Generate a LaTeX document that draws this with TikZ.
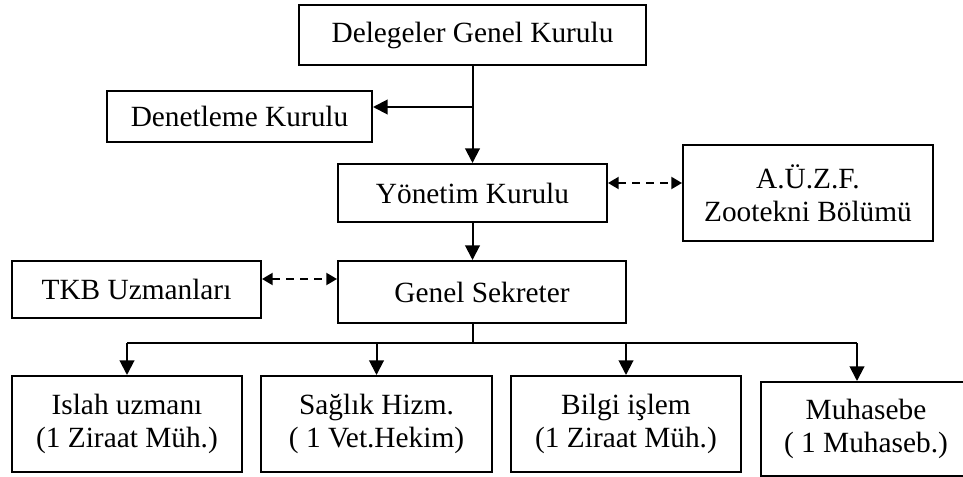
\documentclass[tikz,border=0pt]{standalone}
\usepackage{fontspec}
\setmainfont{Liberation Serif}
\usetikzlibrary{arrows.meta,calc}
\tikzset{
  box/.style={draw, line width=1.5pt, rectangle, inner sep=0pt, align=center,
    font=\fontsize{22}{25}\selectfont},
  conn/.style={line width=1.5pt, -{Triangle[length=11pt,width=11pt]}},
  dconn/.style={line width=1.5pt, dash pattern=on 5.5pt off 5pt,
    {Triangle[length=8pt,width=9pt]}-{Triangle[length=8pt,width=9pt]}},
  line/.style={line width=1.5pt}
}
\begin{document}
\begin{tikzpicture}[x=0.75pt,y=-0.75pt]
\useasboundingbox (0,0) rectangle (963,477);
\clip (0,0) rectangle (963,477);
\node[box, minimum width={347*0.75pt}, minimum height={60*0.75pt}] (dgk) at (472.5,35) {Delegeler Genel Kurulu};
\node[box, minimum width={265*0.75pt}, minimum height={51*0.75pt}] (den) at (239.5,116.5) {Denetleme Kurulu};
\node[box, minimum width={269*0.75pt}, minimum height={58*0.75pt}] (yon) at (472.5,193) {Yönetim Kurulu};
\node[box, minimum width={250*0.75pt}, minimum height={96*0.75pt}] (auzf) at (808,193) {A.Ü.Z.F.\\Zootekni Bölümü};
\node[box, minimum width={288*0.75pt}, minimum height={62*0.75pt}] (gs) at (482,292) {Genel Sekreter};
\node[box, minimum width={249*0.75pt}, minimum height={57*0.75pt}] (tkb) at (136.5,289.5) {TKB Uzmanları};
\node[box, minimum width={230*0.75pt}, minimum height={96*0.75pt}] (isl) at (127,424) {Islah uzmanı\\(1 Ziraat Müh.)};
\node[box, minimum width={231*0.75pt}, minimum height={96*0.75pt}] (sag) at (376.5,424) {Sağlık Hizm.\\( 1 Vet.Hekim)};
\node[box, minimum width={230*0.75pt}, minimum height={96*0.75pt}] (bil) at (626,424) {Bilgi işlem\\(1 Ziraat Müh.)};
\node[box, minimum width={210*0.75pt}, minimum height={94*0.75pt}] (muh) at (866,429) {Muhasebe\\( 1 Muhaseb.)};

\coordinate (br) at (472.5,107);
\coordinate (bus) at (472.5,343);
\coordinate (busL) at (127,343);
\coordinate (busR) at (857,343);
\coordinate (d1) at (607,183);
\coordinate (d2) at (683,183);
\coordinate (d3) at (261,279);
\coordinate (d4) at (338,279);

\draw[conn] (dgk.south) -- (yon.north);
\draw[conn] (br) -- (br -| den.east);
\draw[conn] (yon.south) -- (yon.south |- gs.north);
\draw[dconn] (d1 -| yon.east) -- (d2 -| auzf.west);
\draw[dconn] (d3 -| tkb.east) -- (d4 -| gs.west);
\draw[line] (bus |- gs.south) -- (bus);
\draw[line] (busL) -- (busR);
\draw[conn] (busL) -- (isl.north);
\draw[conn] (busL -| sag.north) -- (sag.north);
\draw[conn] (busL -| bil.north) -- (bil.north);
\draw[conn] (busR) -- (busR |- muh.north);
\end{tikzpicture}
\end{document}
